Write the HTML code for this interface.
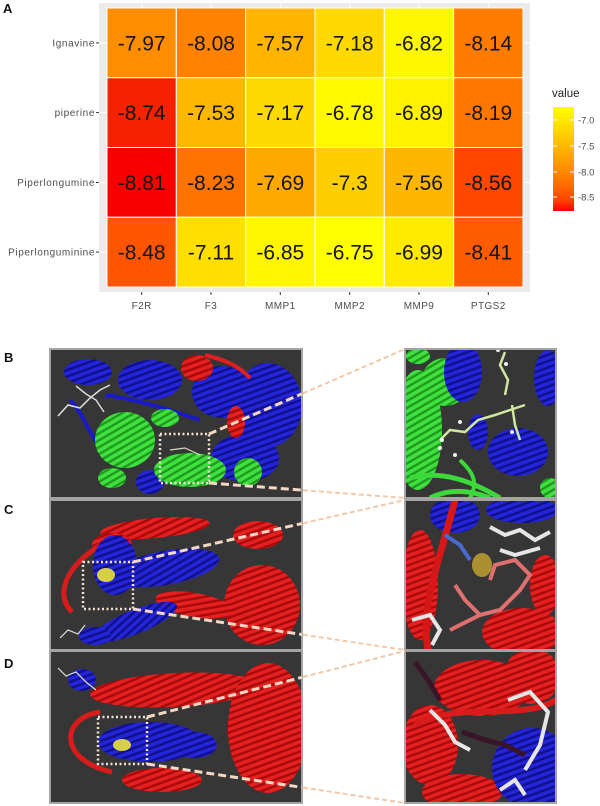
<!DOCTYPE html>
<html><head><meta charset="utf-8"><style>
html,body{margin:0;padding:0;background:#fff;}
body{width:600px;height:806px;overflow:hidden;}
svg{display:block;}
text{font-family:"Liberation Sans",Arial,sans-serif;}
</style></head><body>
<svg width="600" height="806" viewBox="0 0 600 806" xmlns="http://www.w3.org/2000/svg">
<defs>
<linearGradient id="lg" x1="0" y1="0" x2="0" y2="1">
<stop offset="0" stop-color="#ffff00"/><stop offset="0.1" stop-color="#ffed00"/><stop offset="0.25" stop-color="#ffd100"/><stop offset="0.5" stop-color="#ffa100"/><stop offset="0.75" stop-color="#ff6c00"/><stop offset="0.9" stop-color="#ff4100"/><stop offset="1" stop-color="#f80000"/>
</linearGradient>
<pattern id="pr" width="6" height="6" patternUnits="userSpaceOnUse" patternTransform="rotate(70)"><rect width="6" height="6" fill="#a80a0a"/><rect width="3.6" height="6" fill="#e42020"/></pattern>
<pattern id="pb" width="6" height="6" patternUnits="userSpaceOnUse" patternTransform="rotate(70)"><rect width="6" height="6" fill="#10108a"/><rect width="3.6" height="6" fill="#2424d8"/></pattern>
<pattern id="pg" width="6" height="6" patternUnits="userSpaceOnUse" patternTransform="rotate(60)"><rect width="6" height="6" fill="#1f9a1f"/><rect width="3.6" height="6" fill="#3fe03f"/></pattern>
<clipPath id="cB1"><rect x="50" y="349" width="252" height="149"/></clipPath>
<clipPath id="cB2"><rect x="405" y="349" width="151" height="149"/></clipPath>
<clipPath id="cC1"><rect x="50" y="500" width="252" height="150"/></clipPath>
<clipPath id="cC2"><rect x="405" y="500" width="151" height="150"/></clipPath>
<clipPath id="cD1"><rect x="50" y="651" width="252" height="152"/></clipPath>
<clipPath id="cD2"><rect x="405" y="651" width="151" height="152"/></clipPath>
</defs>

<!-- Panel A heatmap -->
<text x="3" y="13" font-size="13" font-weight="bold" fill="#111">A</text>
<rect x="99" y="3" width="431" height="289" fill="#ebebeb"/>
<g stroke="#ffffff" stroke-width="1.1">
<line x1="141.7" y1="3" x2="141.7" y2="292"/><line x1="211" y1="3" x2="211" y2="292"/><line x1="280.3" y1="3" x2="280.3" y2="292"/><line x1="349.7" y1="3" x2="349.7" y2="292"/><line x1="419" y1="3" x2="419" y2="292"/><line x1="488.3" y1="3" x2="488.3" y2="292"/>
<line x1="99" y1="42.9" x2="530" y2="42.9"/><line x1="99" y1="112.6" x2="530" y2="112.6"/><line x1="99" y1="182.4" x2="530" y2="182.4"/><line x1="99" y1="252.1" x2="530" y2="252.1"/>
</g>
<g stroke="#ffffff" stroke-width="1">
<rect x="107" y="8" width="69.33" height="69.75" fill="#ff8d00"/>
<rect x="176.33" y="8" width="69.33" height="69.75" fill="#ff8200"/>
<rect x="245.67" y="8" width="69.33" height="69.75" fill="#ffb500"/>
<rect x="315" y="8" width="69.33" height="69.75" fill="#ffd900"/>
<rect x="384.33" y="8" width="69.33" height="69.75" fill="#fff700"/>
<rect x="453.67" y="8" width="69.33" height="69.75" fill="#ff7c00"/>

<rect x="107" y="77.75" width="69.33" height="69.75" fill="#f42200"/>
<rect x="176.33" y="77.75" width="69.33" height="69.75" fill="#ffb800"/>
<rect x="245.67" y="77.75" width="69.33" height="69.75" fill="#ffda00"/>
<rect x="315" y="77.75" width="69.33" height="69.75" fill="#fffa00"/>
<rect x="384.33" y="77.75" width="69.33" height="69.75" fill="#fff100"/>
<rect x="453.67" y="77.75" width="69.33" height="69.75" fill="#ff7700"/>

<rect x="107" y="147.5" width="69.33" height="69.75" fill="#f80000"/>
<rect x="176.33" y="147.5" width="69.33" height="69.75" fill="#ff7300"/>
<rect x="245.67" y="147.5" width="69.33" height="69.75" fill="#ffa900"/>
<rect x="315" y="147.5" width="69.33" height="69.75" fill="#ffce00"/>
<rect x="384.33" y="147.5" width="69.33" height="69.75" fill="#ffb600"/>
<rect x="453.67" y="147.5" width="69.33" height="69.75" fill="#ff4700"/>

<rect x="107" y="217.25" width="69.33" height="69.75" fill="#ff5500"/>
<rect x="176.33" y="217.25" width="69.33" height="69.75" fill="#ffdf00"/>
<rect x="245.67" y="217.25" width="69.33" height="69.75" fill="#fff500"/>
<rect x="315" y="217.25" width="69.33" height="69.75" fill="#ffff00"/>
<rect x="384.33" y="217.25" width="69.33" height="69.75" fill="#ffea00"/>
<rect x="453.67" y="217.25" width="69.33" height="69.75" fill="#ff5c00"/>
</g>
<g font-size="21" fill="#151515" text-anchor="middle">
<text x="141.7" y="50.5">-7.97</text><text x="211" y="50.5">-8.08</text><text x="280.3" y="50.5">-7.57</text><text x="349.7" y="50.5">-7.18</text><text x="419" y="50.5">-6.82</text><text x="488.3" y="50.5">-8.14</text>
<text x="141.7" y="120.2">-8.74</text><text x="211" y="120.2">-7.53</text><text x="280.3" y="120.2">-7.17</text><text x="349.7" y="120.2">-6.78</text><text x="419" y="120.2">-6.89</text><text x="488.3" y="120.2">-8.19</text>
<text x="141.7" y="190">-8.81</text><text x="211" y="190">-8.23</text><text x="280.3" y="190">-7.69</text><text x="349.7" y="190">-7.3</text><text x="419" y="190">-7.56</text><text x="488.3" y="190">-8.56</text>
<text x="141.7" y="259.7">-8.48</text><text x="211" y="259.7">-7.11</text><text x="280.3" y="259.7">-6.85</text><text x="349.7" y="259.7">-6.75</text><text x="419" y="259.7">-6.99</text><text x="488.3" y="259.7">-8.41</text>
</g>
<g stroke="#333" stroke-width="1">
<line x1="96" y1="42.9" x2="99" y2="42.9"/><line x1="96" y1="112.6" x2="99" y2="112.6"/><line x1="96" y1="182.4" x2="99" y2="182.4"/><line x1="96" y1="252.1" x2="99" y2="252.1"/>
<line x1="141.7" y1="292" x2="141.7" y2="295"/><line x1="211" y1="292" x2="211" y2="295"/><line x1="280.3" y1="292" x2="280.3" y2="295"/><line x1="349.7" y1="292" x2="349.7" y2="295"/><line x1="419" y1="292" x2="419" y2="295"/><line x1="488.3" y1="292" x2="488.3" y2="295"/>
</g>
<g font-size="10" fill="#4d4d4d" text-anchor="end" letter-spacing="0.6">
<text x="95" y="46.5">Ignavine</text>
<text x="95" y="116.2">piperine</text>
<text x="95" y="186">Piperlongumine</text>
<text x="95" y="255.7">Piperlonguminine</text>
</g>
<g font-size="10" fill="#4d4d4d" text-anchor="middle" letter-spacing="0.4">
<text x="141.7" y="309">F2R</text><text x="211" y="309">F3</text><text x="280.3" y="309">MMP1</text><text x="349.7" y="309">MMP2</text><text x="419" y="309">MMP9</text><text x="488.3" y="309">PTGS2</text>
</g>
<!-- legend -->
<text x="552" y="97" font-size="11.5" fill="#222">value</text>
<rect x="553" y="107" width="21" height="104" fill="url(#lg)"/>
<g stroke="#fff" stroke-width="1">
<line x1="553" y1="120" x2="557" y2="120"/><line x1="570" y1="120" x2="574" y2="120"/>
<line x1="553" y1="146" x2="557" y2="146"/><line x1="570" y1="146" x2="574" y2="146"/>
<line x1="553" y1="172" x2="557" y2="172"/><line x1="570" y1="172" x2="574" y2="172"/>
<line x1="553" y1="197" x2="557" y2="197"/><line x1="570" y1="197" x2="574" y2="197"/>
</g>
<g font-size="9.5" fill="#4d4d4d">
<text x="578" y="123.5">-7.0</text><text x="578" y="149.5">-7.5</text><text x="578" y="175.5">-8.0</text><text x="578" y="200.5">-8.5</text>
</g>

<!-- panel labels -->
<text x="4" y="362" font-size="13" font-weight="bold" fill="#111">B</text>
<text x="4" y="514" font-size="13" font-weight="bold" fill="#111">C</text>
<text x="4" y="668" font-size="13" font-weight="bold" fill="#111">D</text>

<!-- B left -->
<g clip-path="url(#cB1)">
<rect x="50" y="349" width="252" height="149" fill="#363636"/>
<ellipse cx="88" cy="372" rx="24" ry="13" fill="url(#pb)"/>
<ellipse cx="150" cy="380" rx="32" ry="20" fill="url(#pb)"/>
<ellipse cx="222" cy="392" rx="30" ry="26" fill="url(#pb)"/>
<ellipse cx="268" cy="405" rx="34" ry="42" fill="url(#pb)"/>
<ellipse cx="245" cy="458" rx="34" ry="24" fill="url(#pb)"/>
<ellipse cx="150" cy="482" rx="14" ry="12" fill="url(#pb)"/>
<path d="M70,400 C90,420 92,455 125,462 M105,395 C140,400 170,410 200,420" stroke="#1a1ac8" stroke-width="4" fill="none"/>
<ellipse cx="125" cy="440" rx="30" ry="28" fill="url(#pg)"/>
<ellipse cx="190" cy="470" rx="36" ry="17" fill="url(#pg)"/>
<ellipse cx="248" cy="472" rx="14" ry="14" fill="url(#pg)"/>
<ellipse cx="165" cy="418" rx="14" ry="9" fill="url(#pg)"/>
<ellipse cx="112" cy="478" rx="14" ry="10" fill="url(#pg)"/>
<ellipse cx="197" cy="368" rx="16" ry="13" fill="url(#pr)"/>
<path d="M205,355 C225,360 238,365 250,378" stroke="#e02020" stroke-width="4" fill="none"/>
<ellipse cx="236" cy="422" rx="9" ry="16" fill="url(#pr)"/>
<polyline points="58,416 68,405 80,408 90,398 100,390 110,385" stroke="#e0e0e0" stroke-width="1.5" fill="none"/>
<polyline points="76,386 86,394 96,400 104,412" stroke="#d8d8d8" stroke-width="1.5" fill="none"/>
<polyline points="170,450 185,448 200,455" stroke="#d8d8c0" stroke-width="1.2" fill="none"/>
</g>
<rect x="50" y="349" width="252" height="149" fill="none" stroke="#a4a4a4" stroke-width="2"/>

<!-- B right -->
<g clip-path="url(#cB2)">
<rect x="405" y="349" width="151" height="149" fill="#363636"/>
<ellipse cx="418" cy="430" rx="24" ry="60" fill="url(#pg)"/>
<ellipse cx="445" cy="382" rx="24" ry="24" fill="url(#pg)"/>
<ellipse cx="418" cy="356" rx="12" ry="8" fill="url(#pg)"/>
<path d="M410,478 C440,470 470,480 500,498 M430,498 C450,488 470,490 490,498" stroke="#3cd83c" stroke-width="5" fill="none"/>
<path d="M460,460 C470,470 480,480 470,498" stroke="#3cd83c" stroke-width="4" fill="none"/>
<ellipse cx="463" cy="372" rx="19" ry="30" fill="url(#pb)"/>
<ellipse cx="548" cy="378" rx="14" ry="28" fill="url(#pb)"/>
<ellipse cx="518" cy="452" rx="30" ry="24" fill="url(#pb)"/>
<ellipse cx="478" cy="432" rx="10" ry="18" fill="url(#pb)"/>
<ellipse cx="550" cy="488" rx="10" ry="10" fill="url(#pg)"/>
<polyline points="440,440 450,430 465,432 478,420 495,415 510,410 525,405" stroke="#cfe8a0" stroke-width="2.5" fill="none"/>
<polyline points="505,395 508,380 500,365 505,352" stroke="#cfe8a0" stroke-width="2.5" fill="none"/>
<polyline points="512,405 515,425 520,440" stroke="#cfe8a0" stroke-width="2.5" fill="none"/>
<g fill="#f0f0f0"><circle cx="442" cy="440" r="2"/><circle cx="440" cy="448" r="2"/><circle cx="460" cy="422" r="2"/><circle cx="506" cy="364" r="2"/><circle cx="498" cy="350" r="2"/><circle cx="512" cy="432" r="2"/><circle cx="455" cy="455" r="2"/></g>
</g>
<rect x="405" y="349" width="151" height="149" fill="none" stroke="#a4a4a4" stroke-width="2"/>

<!-- C left -->
<g clip-path="url(#cC1)">
<rect x="50" y="500" width="252" height="150" fill="#363636"/>
<ellipse cx="155" cy="528" rx="55" ry="10" fill="url(#pr)" transform="rotate(-5 155 528)"/>
<ellipse cx="112" cy="545" rx="20" ry="12" fill="url(#pr)"/>
<ellipse cx="262" cy="605" rx="38" ry="40" fill="url(#pr)"/>
<ellipse cx="258" cy="535" rx="25" ry="14" fill="url(#pr)"/>
<path d="M110,540 C70,560 52,592 72,612" stroke="#d81c1c" stroke-width="5" fill="none"/>
<ellipse cx="195" cy="605" rx="40" ry="12" fill="url(#pr)" transform="rotate(10 195 605)"/>
<ellipse cx="165" cy="568" rx="55" ry="17" fill="url(#pb)" transform="rotate(-10 165 568)"/>
<ellipse cx="115" cy="565" rx="22" ry="30" fill="url(#pb)"/>
<ellipse cx="135" cy="622" rx="45" ry="12" fill="url(#pb)" transform="rotate(-22 135 622)"/>
<ellipse cx="95" cy="636" rx="16" ry="9" fill="url(#pb)"/>
<ellipse cx="106" cy="575" rx="9" ry="7" fill="#d6cf48"/>
<polyline points="60,638 68,630 78,634 85,625" stroke="#ddd" stroke-width="1.2" fill="none"/>
</g>
<rect x="50" y="500" width="252" height="150" fill="none" stroke="#a4a4a4" stroke-width="2"/>

<!-- C right -->
<g clip-path="url(#cC2)">
<rect x="405" y="500" width="151" height="150" fill="#363636"/>
<ellipse cx="420" cy="585" rx="18" ry="55" fill="url(#pr)"/>
<ellipse cx="455" cy="515" rx="25" ry="18" fill="url(#pb)"/>
<ellipse cx="522" cy="510" rx="36" ry="13" fill="url(#pb)"/>
<path d="M455,500 C440,560 420,605 428,650" stroke="#d41818" stroke-width="7" fill="none"/>
<ellipse cx="522" cy="632" rx="40" ry="24" fill="url(#pr)"/>
<ellipse cx="545" cy="585" rx="15" ry="30" fill="url(#pr)"/>
<polyline points="490,527 505,535 520,530 535,540 550,532" stroke="#e6e6e6" stroke-width="4" fill="none"/>
<polyline points="500,550 515,555 540,548" stroke="#e6e6e6" stroke-width="4" fill="none"/>
<polyline points="445,535 460,545 470,560" stroke="#4a6ad0" stroke-width="4" fill="none"/>
<polyline points="455,585 465,600 480,615 500,610 520,590 530,575 515,560 495,565 490,580" stroke="#e07070" stroke-width="4" fill="none"/>
<polyline points="450,630 470,620 480,615" stroke="#e07070" stroke-width="4" fill="none"/>
<polyline points="412,620 430,615 440,630 432,645" stroke="#e6e6e6" stroke-width="4" fill="none"/>
<ellipse cx="482" cy="565" rx="10" ry="12" fill="#c8a830" opacity="0.8"/>
</g>
<rect x="405" y="500" width="151" height="150" fill="none" stroke="#a4a4a4" stroke-width="2"/>

<!-- D left -->
<g clip-path="url(#cD1)">
<rect x="50" y="651" width="252" height="152" fill="#363636"/>
<ellipse cx="175" cy="690" rx="85" ry="17" fill="url(#pr)" transform="rotate(-3 175 690)"/>
<ellipse cx="268" cy="728" rx="40" ry="65" fill="url(#pr)"/>
<path d="M100,712 C60,718 58,760 112,772" stroke="#d81c1c" stroke-width="5" fill="none"/>
<ellipse cx="150" cy="742" rx="52" ry="20" fill="url(#pb)"/>
<ellipse cx="195" cy="745" rx="22" ry="13" fill="url(#pb)"/>
<ellipse cx="82" cy="680" rx="14" ry="11" fill="url(#pb)"/>
<ellipse cx="162" cy="780" rx="40" ry="12" fill="url(#pr)"/>
<ellipse cx="122" cy="745" rx="9" ry="6" fill="#d6cf48"/>
<polyline points="58,668 66,676 76,672 86,682 96,690" stroke="#ddd" stroke-width="1.2" fill="none"/>
</g>
<rect x="50" y="651" width="252" height="152" fill="none" stroke="#a4a4a4" stroke-width="2"/>

<!-- D right -->
<g clip-path="url(#cD2)">
<rect x="405" y="651" width="151" height="152" fill="#363636"/>
<ellipse cx="482" cy="688" rx="48" ry="28" fill="url(#pr)"/>
<ellipse cx="430" cy="745" rx="28" ry="40" fill="url(#pr)"/>
<ellipse cx="462" cy="792" rx="40" ry="18" fill="url(#pr)"/>
<ellipse cx="532" cy="676" rx="28" ry="28" fill="url(#pr)"/>
<path d="M415,725 C460,700 520,722 556,700" stroke="#d81c1c" stroke-width="6" fill="none"/>
<ellipse cx="532" cy="768" rx="40" ry="40" fill="url(#pb)"/>
<polyline points="415,662 428,680 440,700" stroke="#3a1428" stroke-width="5" fill="none"/>
<polyline points="462,732 485,740 505,745 525,755" stroke="#3a1428" stroke-width="5" fill="none"/>
<polyline points="430,710 445,725 455,742 470,750" stroke="#e6e6e6" stroke-width="4" fill="none"/>
<polyline points="508,700 530,692 548,712 540,745 525,770" stroke="#e6e6e6" stroke-width="4" fill="none"/>
<polyline points="500,790 515,780 525,795" stroke="#e6e6e6" stroke-width="4" fill="none"/>
</g>
<rect x="405" y="651" width="151" height="152" fill="none" stroke="#a4a4a4" stroke-width="2"/>

<!-- dotted boxes -->
<g fill="none" stroke="#f2e2d4" stroke-width="2.5" stroke-dasharray="2 2.5">
<rect x="160" y="434" width="49" height="49"/>
<rect x="83" y="562" width="50" height="47"/>
<rect x="98" y="717" width="49" height="47"/>
</g>
<!-- connector lines inside left panels -->
<g stroke="#f4d8c4" stroke-width="3" stroke-dasharray="8 4" fill="none">
<line x1="209" y1="434" x2="302" y2="393.7"/><line x1="209" y1="483" x2="302" y2="490.1"/>
<line x1="133" y1="562" x2="302" y2="523.5"/><line x1="133" y1="609" x2="302" y2="634.5"/>
<line x1="147" y1="717" x2="302" y2="677.3"/><line x1="147" y1="764" x2="302" y2="787.4"/>
</g>
<!-- connector lines outside -->
<g stroke="#f0c9aa" stroke-width="2" stroke-dasharray="5 3" fill="none">
<line x1="303" y1="393.3" x2="405" y2="349"/><line x1="303" y1="490.2" x2="405" y2="498"/>
<line x1="303" y1="523.3" x2="405" y2="500"/><line x1="303" y1="634.7" x2="405" y2="650"/>
<line x1="303" y1="677" x2="405" y2="651"/><line x1="303" y1="787.6" x2="405" y2="803"/>
</g>
</svg>
</body></html>
